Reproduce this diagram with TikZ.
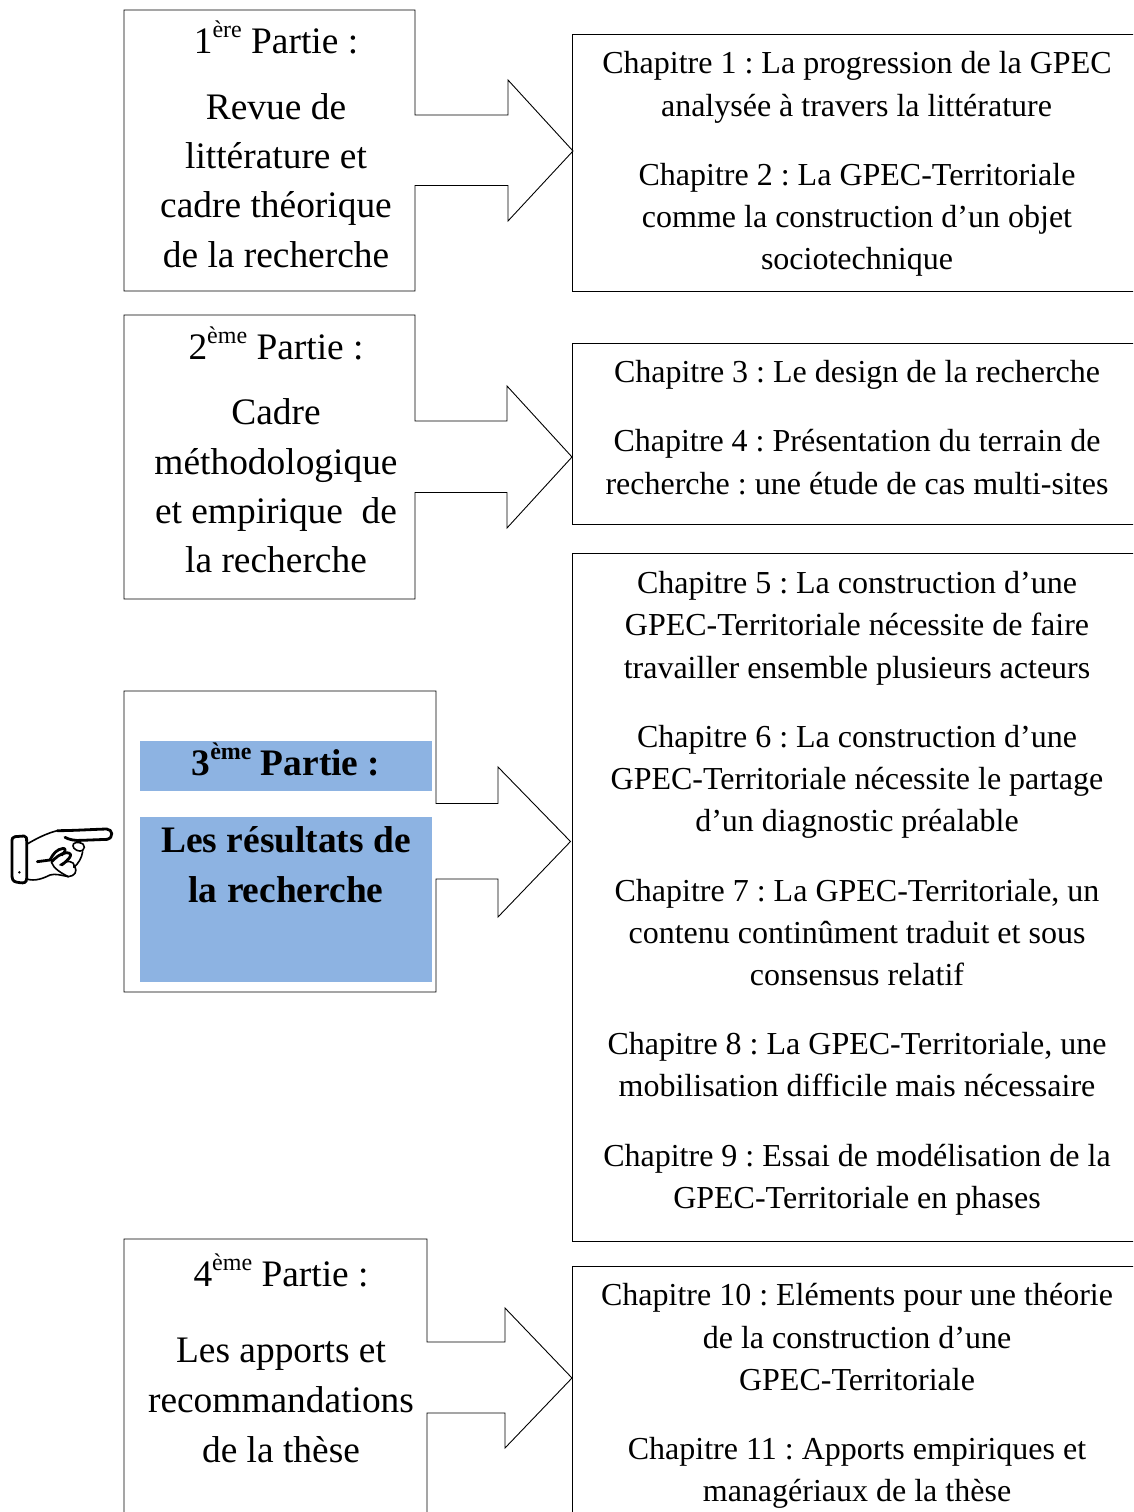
\documentclass[tikz,border=0pt]{standalone}
\usepackage{fontspec}
\setmainfont{Liberation Serif}
\definecolor{hl}{RGB}{141,179,226}
\tikzset{
 x=1pt,y=-1pt,
 lbl/.style={anchor=base,font=\fontsize{37.4}{40}\selectfont,inner sep=0pt},
 lblb/.style={anchor=base,font=\fontsize{37.4}{40}\selectfont\bfseries,inner sep=0pt},
 ch/.style={anchor=base,font=\fontsize{32}{36}\selectfont,inner sep=0pt},
 outl/.style={draw=black,line width=0.9pt,fill=white,line join=miter},
 handl/.style={draw=black,line width=1.6pt,line cap=round,line join=round},
 handh/.style={draw=black,line width=2.8pt,line cap=round,line join=round},
}
\newcommand{\ord}[2]{#1\raisebox{15.5pt}{\fontsize{24}{24}\selectfont #2}}
\begin{document}
\frenchspacing
\begin{tikzpicture}
\useasboundingbox (0,0) rectangle (1133,1512);
\clip (0,0) rectangle (1133,1512);
% chapter boxes
\draw[outl] (572.5,34) rectangle (1140,291);
\draw[outl] (572,343) rectangle (1140,524);
\draw[outl] (572,553.5) rectangle (1140,1241);
\draw[outl] (572,1266) rectangle (1140,1530);
% part callouts
\draw[outl] (124,10)--(415,10)--(415,115)--(508,115)--(508,80)--(573,151)--(508,221)--(508,185.5)--(415,185.5)--(415,291)--(124,291)--cycle;
\draw[outl] (124,315)--(415,315)--(415,421)--(507,421)--(507,386)--(572,457)--(507,528)--(507,492.5)--(415,492.5)--(415,599)--(124,599)--cycle;
\draw[outl] (124,691)--(436,691)--(436,803.5)--(498,803.5)--(498,767)--(570.5,841.5)--(498,917)--(498,879)--(436,879)--(436,992)--(124,992)--cycle;
\draw[outl] (124,1239)--(427,1239)--(427,1342)--(505,1342)--(505,1308)--(572,1378)--(505,1448)--(505,1413)--(427,1413)--(427,1530)--(124,1530)--cycle;
\fill[hl] (140,741) rectangle (432,791);
\fill[hl] (140,817) rectangle (432,982);
% part 1
\node[lbl] (p1) at (276,53) {\ord{1}{ère} Partie :};
\node[lbl] (p1a) at (276,119) {Revue de};
\node[lbl] (p1b) at (276,168) {littérature et};
\node[lbl] (p1c) at (276,217) {cadre théorique};
\node[lbl] (p1d) at (276,267) {de la recherche};
% part 2
\node[lbl] (p2) at (276,359) {\ord{2}{ème} Partie :};
\node[lbl] (p2a) at (276,424) {Cadre};
\node[lbl] (p2b) at (276,474) {méthodologique};
\node[lbl] (p2c) at (276,523) {et empirique\ \ de};
\node[lbl] (p2d) at (276,572) {la recherche};
% part 3
\node[lblb] (p3) at (286,775) {\ord{3}{ème} Partie :};
\node[lblb] (p3a) at (286,852) {Les résultats de};
\node[lblb] (p3b) at (286,902) {la recherche};
% part 4
\node[lbl] (p4) at (281,1286) {\ord{4}{ème} Partie :};
\node[lbl] (p4a) at (281,1362) {Les apports et};
\node[lbl] (p4b) at (281,1412) {recommandations};
\node[lbl] (p4c) at (281,1462) {de la thèse};
% hand (drawn in the coordinates of a 3x crop)
\begin{scope}[shift={(0,810)},x=0.3333pt,y=-0.3333pt]
\draw[handh] (45,80) -- (72,78) .. controls (80,78) and (80,85) .. (80,95) -- (80,205) .. controls (80,218) and (72,220) .. (60,218) -- (48,216) .. controls (38,214) and (36,205) .. (36,195) -- (36,95) .. controls (36,85) and (38,81) .. (45,80) -- cycle;
\fill (58,187) circle (4);
\draw[handl] (80,103) .. controls (110,85) and (140,70) .. (172,62);
\draw[handh] (172,62) .. controls (220,62) and (280,58) .. (320,57) .. controls (338,58) and (342,82) .. (322,88) -- (245,91) .. controls (225,93) and (205,88) .. (195,82);
\draw[handl] (238,98) .. controls (220,95) and (215,105) .. (222,115) .. controls (232,125) and (250,128) .. (253,112) .. controls (254,104) and (248,100) .. (238,98);
\draw[handl] (248,125) .. controls (245,145) and (235,160) .. (222,172);
\draw[handl] (225,170) .. controls (232,185) and (225,198) .. (205,200);
\draw[handl] (205,200) .. controls (185,196) and (165,190) .. (150,195) .. controls (130,205) and (105,215) .. (80,207);
\draw[handh] (112,155) -- (150,150);
\draw[handh] (150,150) .. controls (160,130) and (170,118) .. (190,115) .. controls (200,115) and (195,128) .. (185,135);
\draw[handh] (155,155) .. controls (165,145) and (180,130) .. (200,128) .. controls (225,130) and (205,150) .. (185,165);
\draw[handl] (155,158) .. controls (160,175) and (185,190) .. (205,200);
\draw[handl] (180,165) .. controls (200,150) and (225,150) .. (222,172);
\end{scope}
% chapters
\node[ch] (c1a) at (857,74) {Chapitre 1 : La progression de la GPEC};
\node[ch] (c1b) at (856.5,116) {analysée à travers la littérature};
\node[ch] (c2a) at (857,185) {Chapitre 2 : La GPEC-Territoriale};
\node[ch] (c2b) at (857,227) {comme la construction d’un objet};
\node[ch] (c2c) at (857,269) {sociotechnique};
\node[ch] (c3a) at (857,382) {Chapitre 3 : Le design de la recherche};
\node[ch] (c4a) at (857,451) {Chapitre 4 : Présentation du terrain de};
\node[ch] (c4b) at (857,494) {recherche : une étude de cas multi-sites};
\node[ch] (c5a) at (857,593) {Chapitre 5 : La construction d’une};
\node[ch] (c5b) at (857,635) {GPEC-Territoriale nécessite de faire};
\node[ch] (c5c) at (857,678) {travailler ensemble plusieurs acteurs};
\node[ch] (c6a) at (857,747) {Chapitre 6 : La construction d’une};
\node[ch] (c6b) at (857,789) {GPEC-Territoriale nécessite le partage};
\node[ch] (c6c) at (857,831) {d’un diagnostic préalable};
\node[ch] (c7a) at (857,901) {Chapitre 7 : La GPEC-Territoriale, un};
\node[ch] (c7b) at (857,943) {contenu continûment traduit et sous};
\node[ch] (c7c) at (857,985) {consensus relatif};
\node[ch] (c8a) at (857,1054) {Chapitre 8 : La GPEC-Territoriale, une};
\node[ch] (c8b) at (857,1096) {mobilisation difficile mais nécessaire};
\node[ch] (c9a) at (857,1166) {Chapitre 9 : Essai de modélisation de la};
\node[ch] (c9b) at (857,1208) {GPEC-Territoriale en phases};
\node[ch] (c10a) at (857,1305) {Chapitre 10 : Eléments pour une théorie};
\node[ch] (c10b) at (857,1348) {de la construction d’une};
\node[ch] (c10c) at (857,1390) {GPEC-Territoriale};
\node[ch] (c11a) at (857,1459) {Chapitre 11 : Apports empiriques et};
\node[ch] (c11b) at (857,1501) {managériaux de la thèse};
\end{tikzpicture}
\end{document}
